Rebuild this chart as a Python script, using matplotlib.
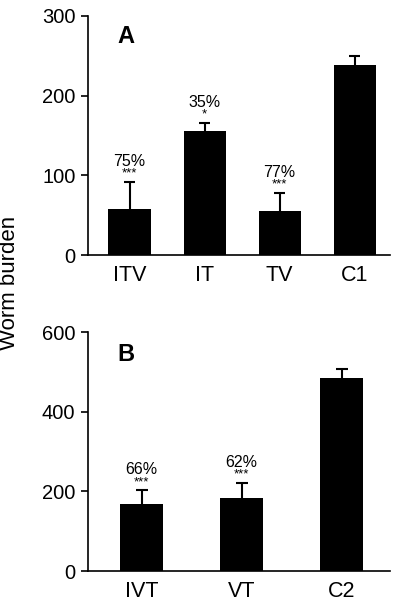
import matplotlib
matplotlib.use("Agg")
import matplotlib.pyplot as plt
import numpy as np

plt.rcParams['font.family'] = ['Liberation Sans', 'DejaVu Sans']

# --- данные, панель A ---
cats_a = ["ITV", "IT", "TV", "C1"]
vals_a = [58, 156, 55, 238]
err_a = [34, 10, 23, 12]
pct_a = ["75%", "35%", "77%", ""]
stars_a = ["***", "*", "***", ""]

# --- данные, панель B ---
cats_b = ["IVT", "VT", "C2"]
vals_b = [168, 183, 484]
err_b = [35, 39, 23]
pct_b = ["66%", "62%", ""]
stars_b = ["***", "***", ""]


def panel(ax, cats, vals, errs, pcts, stars, ymax, step, letter, width, cap, xlim):
    x = np.arange(len(cats))
    tops = np.array(vals) + np.array(errs)
    # только верхние усы
    ax.vlines(x, vals, tops, color="black", lw=1.5, zorder=1)
    ax.hlines(tops, x - cap, x + cap, color="black", lw=1.5, zorder=1)
    ax.bar(x, vals, width=width, color="black", zorder=2)
    for xi, top, p, s in zip(x, tops, pcts, stars):
        if not p:
            continue
        ax.annotate(s, (xi, top), xytext=(0, 2), textcoords="offset pixels",
                    ha="center", va="bottom", fontsize=9.5)
        ax.annotate(p, (xi, top), xytext=(0, 13), textcoords="offset pixels",
                    ha="center", va="bottom", fontsize=11.5)
    ax.set_xticks(x)
    ax.set_xticklabels(cats, fontsize=15.5)
    ax.tick_params(axis="x", length=0, pad=7)
    ax.set_yticks(np.arange(0, ymax + 1, step))
    ax.tick_params(axis="y", labelsize=14.5, length=5, width=1.2, direction="out", pad=4)
    ax.set_ylim(0, ymax)
    ax.set_xlim(*xlim)
    for side in ("top", "right"):
        ax.spines[side].set_visible(False)
    for side in ("left", "bottom"):
        ax.spines[side].set_linewidth(1.2)
    return ax


fig = plt.figure(figsize=(4.0, 6.01), dpi=100)
ax1 = fig.add_axes([0.22, 0.5757, 0.755, 0.3977])
ax2 = fig.add_axes([0.22, 0.0499, 0.755, 0.3972])

panel(ax1, cats_a, vals_a, err_a, pct_a, stars_a, 300, 100, "A", 0.56, 0.075, (-0.553, 3.47))
panel(ax2, cats_b, vals_b, err_b, pct_b, stars_b, 600, 200, "B", 0.43, 0.06, (-0.535, 2.485))

ax1.text(0.096, 0.916, "A", transform=ax1.transAxes, fontsize=17,
         fontweight="bold", va="center", ha="left")
ax2.text(0.096, 0.909, "B", transform=ax2.transAxes, fontsize=17,
         fontweight="bold", va="center", ha="left")

fig.text(0.024, 1 - 283 / 601, "Worm burden", rotation=90, va="center", ha="center", fontsize=16)

fig.savefig("out.png", dpi=100)
